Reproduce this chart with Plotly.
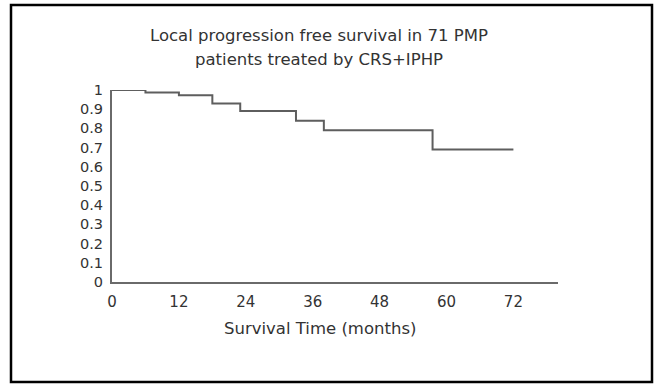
import plotly.graph_objects as go

# Data
months = [0, 6, 12, 18, 23, 33, 38, 57.5, 72]
survival = [1.0, 0.987, 0.973, 0.93, 0.89, 0.84, 0.79, 0.69, 0.69]
x_ticks = [0, 12, 24, 36, 48, 60, 72]
y_ticks = [0, 0.1, 0.2, 0.3, 0.4, 0.5, 0.6, 0.7, 0.8, 0.9, 1]
y_tick_text = ["0", "0.1", "0.2", "0.3", "0.4", "0.5", "0.6", "0.7", "0.8", "0.9", "1"]
title_lines = ["Local progression free survival in 71 PMP", "patients treated by CRS+IPHP"]
x_title = "Survival Time (months)"

W, H = 658, 385
L, R, T, B = 112, 100, 90, 103
pw, ph = W - L - R, H - T - B


def px(x):
    return (x - L) / pw


def py(y):
    return (H - B - y) / ph


FONT = "DejaVu Sans"
TXT = "#333333"

fig = go.Figure()
fig.add_trace(go.Scatter(
    x=months, y=survival, mode="lines", line=dict(shape="hv", color="#5e5e5e", width=2),
    cliponaxis=False, showlegend=False, hoverinfo="skip"))

fig.update_layout(
    width=W, height=H, margin=dict(l=L, r=R, t=T, b=B),
    paper_bgcolor="white", plot_bgcolor="white",
    font=dict(family=FONT, color=TXT, size=15),
    xaxis=dict(range=[0, 80], tickvals=x_ticks, ticktext=[str(v) for v in x_ticks],
               showgrid=False, zeroline=False, showline=True, linecolor="#6a6a6a", linewidth=2,
               ticks="", ticklabelstandoff=5, tickfont=dict(size=15, family=FONT, color=TXT)),
    yaxis=dict(range=[0, 1], tickvals=y_ticks, ticktext=y_tick_text,
               showgrid=False, zeroline=False, showline=True, linecolor="#6a6a6a", linewidth=2,
               ticks="", ticklabelstandoff=4, tickfont=dict(size=14.5, family=FONT, color=TXT)),
)

fig.add_annotation(text=title_lines[0], xref="paper", yref="paper", x=px(319), y=py(35),
                   showarrow=False, xanchor="center", yanchor="middle",
                   font=dict(size=16.5, family=FONT, color=TXT))
fig.add_annotation(text=title_lines[1], xref="paper", yref="paper", x=px(319), y=py(59),
                   showarrow=False, xanchor="center", yanchor="middle",
                   font=dict(size=16.5, family=FONT, color=TXT))
fig.add_annotation(text=x_title, xref="paper", yref="paper", x=px(320), y=py(328),
                   showarrow=False, xanchor="center", yanchor="middle",
                   font=dict(size=16.5, family=FONT, color=TXT))

fig.add_shape(type="rect", xref="paper", yref="paper",
              x0=px(11), x1=px(652), y0=py(5), y1=py(382),
              line=dict(color="black", width=2.5), fillcolor="rgba(0,0,0,0)", layer="above")

fig.write_html("out.html", config={"displayModeBar": False},
               post_script="document.body.style.margin='0';document.body.style.overflow='hidden';")
